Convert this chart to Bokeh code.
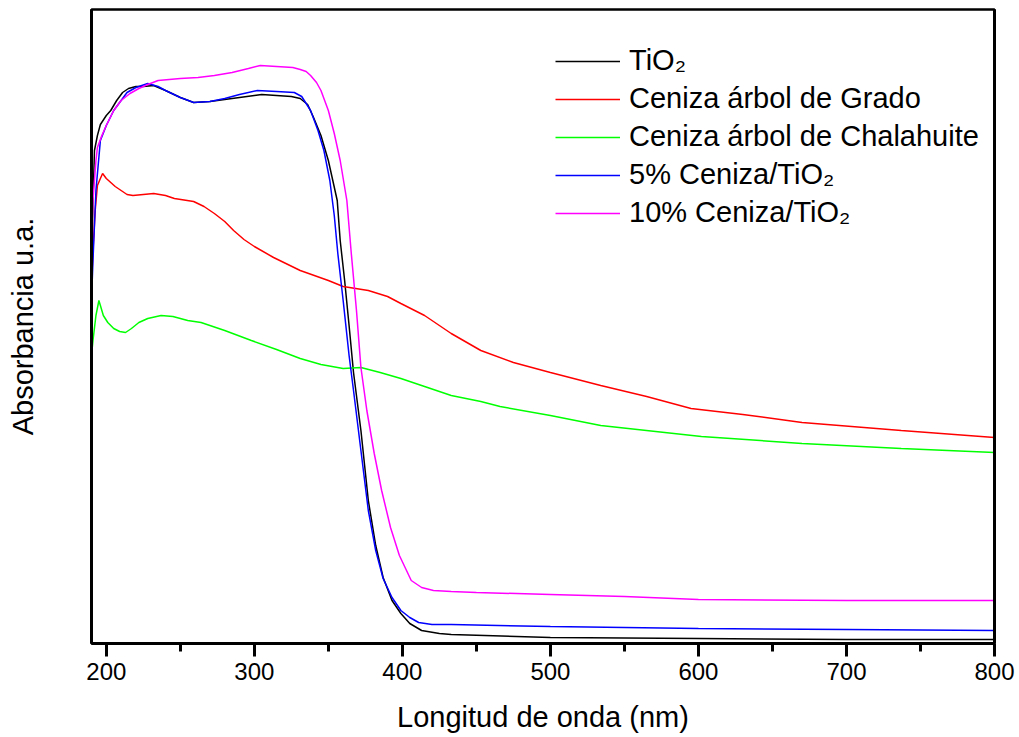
from bokeh.plotting import figure
from bokeh.models import Range1d, FixedTicker, Legend, LegendItem, LinearAxis
from bokeh.embed import file_html
from bokeh.resources import INLINE

# UV-Vis absorbance spectra: wavelength (nm) and absorbance (a.u.)
wl_tio2 = [190, 191, 192, 194, 196, 200, 203, 207, 211, 215, 220, 225, 232, 240, 250,
           259, 270, 280, 290, 300, 305, 315, 325, 331, 336, 340, 345, 350, 356, 358,
           361, 364, 367, 372, 377, 382, 387, 393, 399, 405, 413, 425, 433, 500, 600,
           700, 800]
abs_tio2 = [1.89, 2.215, 2.465, 2.54, 2.595, 2.64, 2.665, 2.715, 2.755, 2.775, 2.785, 2.785,
            2.79, 2.765, 2.73, 2.705, 2.71, 2.72, 2.73, 2.74, 2.745, 2.74, 2.735, 2.725,
            2.695, 2.63, 2.54, 2.415, 2.215, 2.015, 1.815, 1.59, 1.355, 1.065, 0.715,
            0.49, 0.33, 0.215, 0.15, 0.10, 0.065, 0.05, 0.045, 0.03, 0.025, 0.02, 0.02]

wl_grado = [190, 191, 192.5, 194, 196, 197.5, 200, 203, 206, 210, 214, 218, 225, 232, 240,
            246, 259, 266, 273, 280, 286, 293, 300, 313, 331, 350, 360, 377, 390, 399,
            415, 433, 453, 475, 500, 534, 565, 595, 630, 670, 737, 800]
abs_grado = [1.79, 1.965, 2.165, 2.29, 2.325, 2.35, 2.325, 2.305, 2.285, 2.265, 2.245, 2.24,
             2.245, 2.25, 2.24, 2.225, 2.21, 2.185, 2.15, 2.11, 2.065, 2.02, 1.985, 1.93,
             1.865, 1.815, 1.785, 1.765, 1.735, 1.70, 1.64, 1.55, 1.465, 1.405, 1.355,
             1.29, 1.235, 1.175, 1.145, 1.105, 1.065, 1.03]

wl_chal = [190, 191, 193, 195, 196, 198, 201, 205, 209, 213, 217, 222, 228, 237, 245, 255,
           264, 280, 298, 315, 331, 345, 360, 372, 385, 399, 415, 433, 453, 466, 500, 534,
           602, 670, 737, 800]
abs_chal = [1.44, 1.515, 1.64, 1.715, 1.69, 1.64, 1.605, 1.575, 1.56, 1.555, 1.575, 1.605,
            1.625, 1.64, 1.635, 1.615, 1.605, 1.565, 1.515, 1.47, 1.425, 1.395, 1.375, 1.38,
            1.355, 1.325, 1.285, 1.24, 1.21, 1.185, 1.14, 1.09, 1.035, 1.0, 0.975, 0.955]

wl_5 = [190, 191, 193, 196, 200, 205, 210, 214, 220, 228, 235, 240, 250, 259, 270, 280,
        290, 302, 315, 327, 332, 338, 343, 347, 351, 354, 356.4, 360, 364, 367, 372, 377,
        382, 387, 393, 399, 405, 411, 420, 433, 500, 600, 700, 800]
abs_5 = [1.715, 1.915, 2.265, 2.515, 2.59, 2.665, 2.715, 2.755, 2.78, 2.80, 2.785, 2.765,
         2.73, 2.705, 2.71, 2.725, 2.745, 2.765, 2.76, 2.755, 2.735, 2.665, 2.565, 2.465,
         2.315, 2.14, 1.95, 1.715, 1.44, 1.265, 0.965, 0.665, 0.465, 0.325, 0.23, 0.165,
         0.13, 0.105, 0.095, 0.095, 0.085, 0.075, 0.07, 0.065]

wl_10 = [190, 191, 193, 194, 197, 200, 205, 210, 216, 222, 228, 235, 250, 262, 273, 285,
         296, 304, 315, 326, 331, 335, 338, 342, 345, 350, 354, 358, 362.5, 365.5, 369,
         372, 376, 381, 386, 392, 398, 406, 413, 421, 433, 450, 500, 550, 600, 700, 800]
abs_10 = [1.965, 2.215, 2.415, 2.48, 2.54, 2.59, 2.665, 2.715, 2.75, 2.775, 2.795, 2.815,
          2.825, 2.83, 2.84, 2.855, 2.875, 2.89, 2.885, 2.88, 2.87, 2.86, 2.84, 2.805,
          2.765, 2.665, 2.55, 2.415, 2.215, 1.95, 1.665, 1.38, 1.165, 0.95, 0.765, 0.58,
          0.44, 0.315, 0.28, 0.265, 0.26, 0.255, 0.245, 0.235, 0.22, 0.215, 0.215]

series_labels = ["TiO\u2082", "Ceniza árbol de Grado", "Ceniza árbol de Chalahuite",
                 "5% Ceniza/TiO\u2082", "10% Ceniza/TiO\u2082"]
x_ticks = [200, 300, 400, 500, 600, 700, 800]
x_minor_ticks = [250, 350, 450, 550, 650, 750]

FONT = "Liberation Sans"

p = figure(width=1019, height=737, output_backend="svg", toolbar_location=None,
           x_range=Range1d(190, 800), y_range=Range1d(0, 3.17),
           min_border_left=91, min_border_right=25, min_border_top=9, min_border_bottom=94,
           x_axis_location=None, y_axis_location=None)
p.background_fill_color = "white"
p.border_fill_color = "white"
p.xgrid.visible = False
p.ygrid.visible = False
p.outline_line_color = "black"
p.outline_line_width = 2.5

# bottom axis with major and minor ticks
xa = LinearAxis(ticker=FixedTicker(ticks=x_ticks, minor_ticks=x_minor_ticks),
                axis_label="Longitud de onda (nm)")
xa.axis_line_width = 3
xa.major_tick_line_width = 3
xa.minor_tick_line_width = 3
xa.major_tick_out = 13
xa.major_tick_in = 0
xa.minor_tick_out = 8
xa.minor_tick_in = 0
xa.major_label_text_font = FONT
xa.major_label_text_font_size = "24px"
xa.major_label_text_color = "black"
xa.major_label_standoff = 6
xa.axis_label_text_font = FONT
xa.axis_label_text_font_size = "29px"
xa.axis_label_text_font_style = "normal"
xa.axis_label_text_color = "black"
xa.axis_label_standoff = 18
p.add_layout(xa, "below")

# left axis: label only
ya = LinearAxis(ticker=FixedTicker(ticks=[]), axis_label="Absorbancia u.a.")
ya.axis_line_width = 3
ya.major_tick_out = 0
ya.major_tick_in = 0
ya.minor_tick_out = 0
ya.minor_tick_in = 0
ya.axis_label_text_font = FONT
ya.axis_label_text_font_size = "29px"
ya.axis_label_text_font_style = "normal"
ya.axis_label_text_color = "black"
ya.axis_label_standoff = 53
p.add_layout(ya, "left")

# right edge line
ra = LinearAxis(ticker=FixedTicker(ticks=[]), major_label_text_font_size="0px")
ra.axis_line_width = 3
ra.major_tick_out = 0
ra.major_tick_in = 0
ra.minor_tick_out = 0
ra.minor_tick_in = 0
p.add_layout(ra, "right")

lw = 1.5
r1 = p.line(wl_tio2, abs_tio2, line_color="#000000", line_width=lw)
r2 = p.line(wl_grado, abs_grado, line_color="#ff0000", line_width=lw)
r3 = p.line(wl_chal, abs_chal, line_color="#00ff00", line_width=lw)
r4 = p.line(wl_5, abs_5, line_color="#0000ff", line_width=lw)
r5 = p.line(wl_10, abs_10, line_color="#ff00ff", line_width=lw)

legend = Legend(items=[LegendItem(label=lab, renderers=[r])
                       for lab, r in zip(series_labels, [r1, r2, r3, r4, r5])],
                location=(464, 414))
legend.label_text_font = FONT
legend.label_text_font_size = "29px"
legend.label_text_color = "black"
legend.glyph_width = 65
legend.label_standoff = 9
legend.spacing = 5
legend.padding = 0
legend.margin = 0
legend.border_line_color = None
legend.background_fill_alpha = 0
p.add_layout(legend, "center")

open("out.html", "w").write(file_html(p, INLINE))
